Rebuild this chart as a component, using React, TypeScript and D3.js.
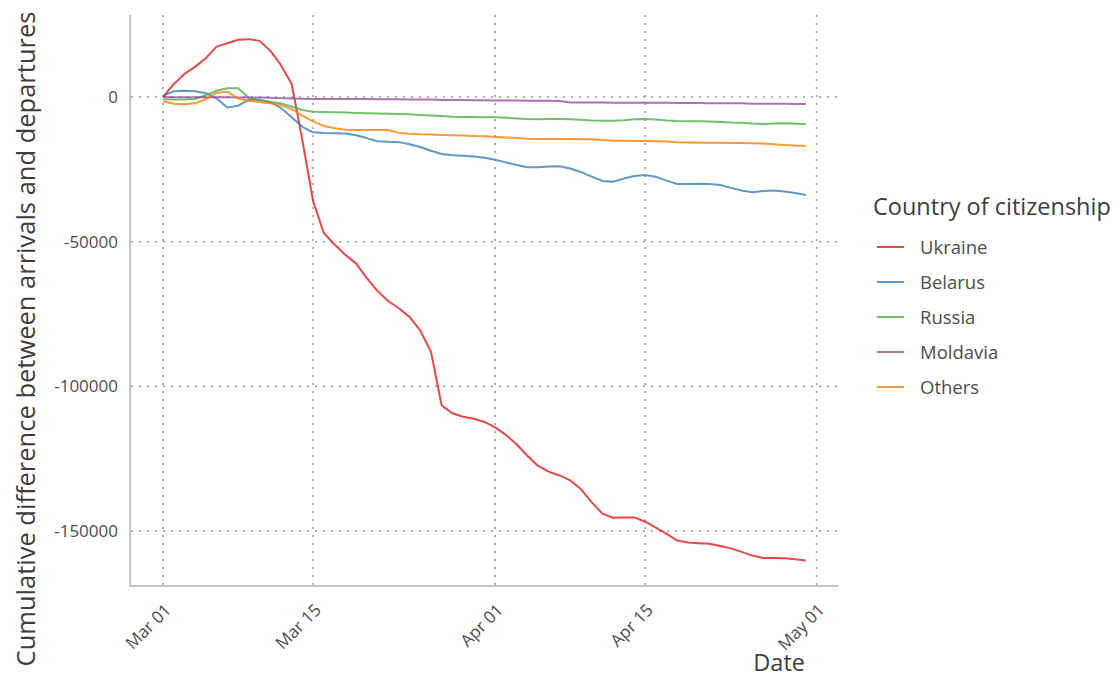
import { useEffect, useRef } from "react";
import * as d3 from "d3";

// cumulative (arrivals - departures), one value per day, Mar 01 .. Apr 30 2022
const ukraine = [
  0, 4500, 8000, 10500, 13500, 17400, 18600, 19800, 20000, 19400,
  16000, 11000, 4500, -15000, -36000, -47000, -51000, -54500, -57500, -62500,
  -67000, -70500, -73000, -76000, -80700, -88000, -106600, -109300, -110500, -111200,
  -112300, -114200, -116800, -120000, -124000, -127500, -129500, -130800, -132500, -135500,
  -140000, -144000, -145400, -145300, -145300, -146800, -148800, -151000, -153300, -154000,
  -154200, -154400, -155200, -156000, -157200, -158500, -159300, -159300, -159400, -159800,
  -160200,
];
const belarus = [
  500, 2000, 2200, 2000, 1300, -500, -3600, -3000, -1000, -900,
  -1800, -3800, -7000, -10300, -12200, -12400, -12500, -12600, -13200, -14200,
  -15300, -15500, -15600, -16300, -17300, -18600, -19700, -20100, -20300, -20600,
  -21000, -21700, -22600, -23500, -24300, -24300, -24000, -23900, -24700, -25900,
  -27500, -29000, -29300, -28200, -27300, -27000, -27600, -28900, -30100, -30100,
  -30000, -30100, -30400, -31400, -32300, -32900, -32500, -32300, -32700, -33200,
  -33900,
];
const russia = [
  -800, -900, -900, -700, 700, 2200, 3000, 3000, -300, -1200,
  -1700, -2200, -3300, -4500, -5100, -5200, -5300, -5400, -5500, -5600,
  -5700, -5800, -5900, -6000, -6200, -6400, -6600, -6800, -6900, -6900,
  -7000, -7000, -7200, -7400, -7600, -7700, -7600, -7600, -7700, -7900,
  -8100, -8200, -8200, -8000, -7700, -7600, -7800, -8100, -8300, -8400,
  -8400, -8500, -8600, -8800, -8900, -9200, -9300, -9200, -9100, -9200,
  -9400,
];
const moldavia = [
  0, -100, -100, -100, -100, -100, -100, -200, -200, -200,
  -300, -400, -500, -600, -700, -700, -700, -700, -700, -700,
  -800, -800, -800, -900, -900, -900, -1000, -1000, -1000, -1100,
  -1100, -1200, -1200, -1200, -1300, -1300, -1300, -1400, -1900, -1900,
  -1900, -1900, -2000, -2000, -2000, -2000, -2000, -2000, -2100, -2100,
  -2100, -2200, -2200, -2200, -2200, -2300, -2300, -2300, -2300, -2400,
  -2400,
];
const others = [
  -1500, -2300, -2500, -2200, -700, 1500, 1800, -500, -1300, -1700,
  -2200, -2800, -4200, -6400, -8400, -10000, -10800, -11300, -11400, -11400,
  -11400, -11400, -12400, -12700, -12900, -13000, -13100, -13200, -13300, -13500,
  -13600, -13800, -14000, -14200, -14400, -14500, -14500, -14500, -14500, -14600,
  -14600, -14900, -15100, -15100, -15200, -15200, -15300, -15400, -15600, -15700,
  -15700, -15800, -15800, -15900, -15900, -16000, -16100, -16300, -16600, -16800,
  -16900,
];

const countries = ["Ukraine", "Belarus", "Russia", "Moldavia", "Others"];
const seriesValues = [ukraine, belarus, russia, moldavia, others];
const colors = ["#E41A1C", "#377EB8", "#4DAF4A", "#984EA3", "#FF7F00"];
const days = d3.utcDay.range(new Date(Date.UTC(2022, 2, 1)), new Date(Date.UTC(2022, 4, 1)));
const xTicks = [
  new Date(Date.UTC(2022, 2, 1)), new Date(Date.UTC(2022, 2, 15)), new Date(Date.UTC(2022, 3, 1)),
  new Date(Date.UTC(2022, 3, 15)), new Date(Date.UTC(2022, 4, 1)),
];
const yTicks = [0, -50000, -100000, -150000];

const FONT = "'Open Sans', 'Noto Sans', sans-serif";

function MigrationChart() {
  const ref = useRef<SVGSVGElement>(null);

  useEffect(() => {
    const el = ref.current;
    if (!el) return;
    const W = 1116, H = 681;
    const P = { left: 131, right: 838, top: 15, bottom: 585 };
    const svg = d3.select(el).attr("width", W).attr("height", H).attr("viewBox", `0 0 ${W} ${H}`);
    svg.selectAll("*").remove();

    const x = d3.scaleUtc()
      .domain([new Date(Date.UTC(2022, 1, 26)), new Date(Date.UTC(2022, 4, 3))])
      .range([P.left, P.right]);
    const y = d3.scaleLinear().domain([0, -150000]).range([97, 531]);

    svg.append("rect").attr("width", W).attr("height", H).attr("fill", "#fff");

    // dotted grid
    const grid = svg.append("g").attr("stroke", "#9a9a9a").attr("stroke-width", 1.5).attr("stroke-dasharray", "2 6");
    yTicks.forEach((t) => {
      grid.append("line").attr("x1", P.left).attr("x2", P.right).attr("y1", y(t)).attr("y2", y(t));
    });
    xTicks.forEach((t) => {
      grid.append("line").attr("x1", x(t)).attr("x2", x(t)).attr("y1", P.top).attr("y2", P.bottom);
    });

    // lines
    const line = d3.line<number>().x((_d, i) => x(days[i])).y((d) => y(d));
    seriesValues.forEach((vals, k) => {
      svg.append("path").datum(vals).attr("fill", "none").attr("stroke", colors[k])
        .attr("stroke-opacity", 0.8).attr("stroke-width", 2).attr("stroke-linejoin", "round").attr("d", line);
    });

    // axis lines
    svg.append("line").attr("x1", P.left - 1).attr("x2", P.left - 1).attr("y1", P.top).attr("y2", P.bottom + 1)
      .attr("stroke", "#c4c4c4").attr("stroke-width", 2);
    svg.append("line").attr("x1", P.left - 2).attr("x2", P.right).attr("y1", P.bottom + 1).attr("y2", P.bottom + 1)
      .attr("stroke", "#c4c4c4").attr("stroke-width", 2);

    // tick labels
    yTicks.forEach((t) => {
      svg.append("text").attr("x", 118).attr("y", y(t)).attr("dy", "0.36em").attr("text-anchor", "end")
        .attr("fill", "#4d4d4d").attr("font-size", 17).attr("font-family", FONT).text(t);
    });
    const fmt = d3.utcFormat("%b %d");
    xTicks.forEach((t) => {
      svg.append("text").attr("transform", `translate(${x(t) + 9},611) rotate(-45)`).attr("text-anchor", "end")
        .attr("fill", "#4d4d4d").attr("font-size", 17).attr("font-family", FONT).text(fmt(t));
    });

    // axis titles
    svg.append("text").attr("transform", "translate(35,339) rotate(-90)").attr("text-anchor", "middle")
      .attr("fill", "#3d3d3d").attr("font-size", 25.5).attr("font-family", FONT)
      .text("Cumulative difference between arrivals and departures");
    svg.append("text").attr("x", 805).attr("y", 671).attr("text-anchor", "end")
      .attr("fill", "#3d3d3d").attr("font-size", 23.5).attr("font-family", FONT).text("Date");

    // legend
    const lg = svg.append("g").attr("font-family", FONT);
    lg.append("text").attr("x", 873).attr("y", 215).attr("fill", "#3d3d3d").attr("font-size", 23.5).text("Country of citizenship");
    countries.forEach((c, k) => {
      const ly = 247 + k * 35;
      lg.append("line").attr("x1", 877).attr("x2", 904).attr("y1", ly).attr("y2", ly)
        .attr("stroke", colors[k]).attr("stroke-opacity", 0.8).attr("stroke-width", 2);
      lg.append("text").attr("x", 920).attr("y", ly).attr("dy", "0.36em").attr("fill", "#4d4d4d")
        .attr("font-size", 18.5).text(c);
    });
  }, []);

  return <svg ref={ref} style={{ position: "absolute", left: 0, top: 0 }} role="img" aria-label="Cumulative migration chart" />;
}

export default function App() {
  return <MigrationChart />;
}
